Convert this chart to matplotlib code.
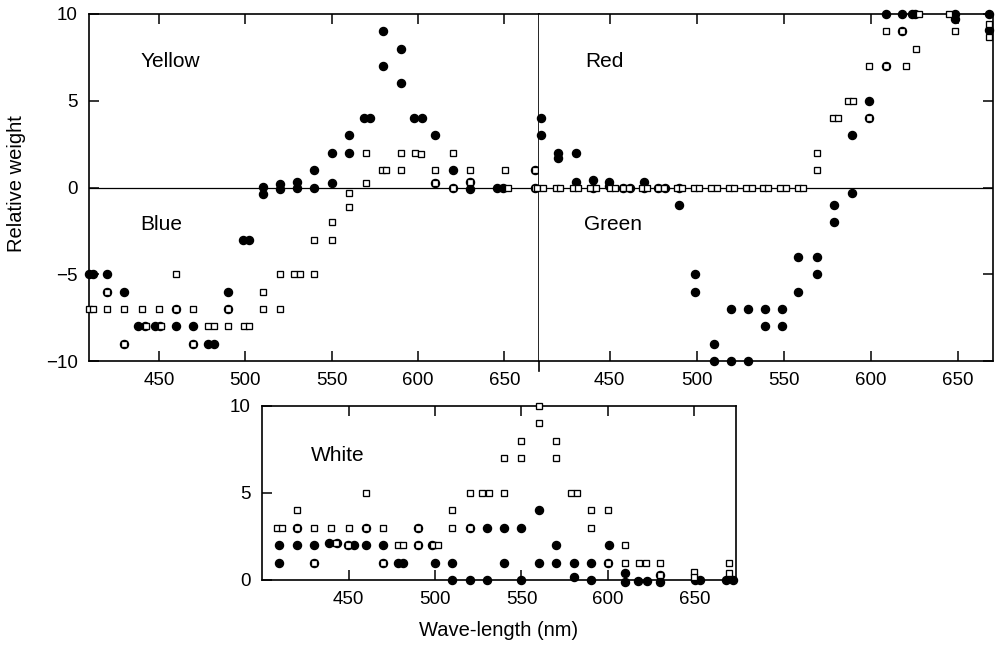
import matplotlib

matplotlib.use("Agg")
import matplotlib.pyplot as plt  # noqa: E402

plt.rcParams["font.family"] = ["Liberation Sans", "DejaVu Sans"]

X_TICKS = [450, 500, 550, 600, 650]

# left upper panel: Yellow (positive) / Blue (negative)
left_circle_nm = [409.5, 412, 420, 420, 430, 430, 438, 442, 447.5, 450.5, 460, 460, 470, 470,
                  478.5, 482, 490, 490, 498.5, 502, 510, 510, 520, 520, 530, 530, 540, 540,
                  550, 550, 560, 560, 568.5, 572.5, 580, 580, 590, 590, 597.5, 602.5, 610, 610,
                  620, 620, 630, 630, 646, 649, 668, 668]
left_circle_val = [-5, -5, -5, -6, -6, -9, -8, -8, -8, -8, -8, -7, -8, -9,
                   -9, -9, -6, -7, -3, -3, 0.05, -0.35, 0.2, -0.1, 0.3, 0, 1, 0,
                   2, 0.25, 3, 2, 4, 4, 9, 7, 8, 6, 4, 4, 3, 0.25,
                   1, 0, 0.3, -0.1, 0, 0, 1, 0]
left_square_nm = [409.5, 412, 420, 420, 430, 430, 440, 442.5, 450, 451, 460, 460, 470, 470,
                  478.5, 482, 490, 490, 499, 502, 510, 510, 520, 520, 528.5, 531.5, 540, 540,
                  550, 550, 560, 560, 570, 570, 579, 581.5, 590, 590, 598.5, 602, 610, 610,
                  620, 620, 630, 630, 652, 650.5, 668, 668]
left_square_val = [-7, -7, -6, -7, -7, -9, -7, -8, -7, -8, -5, -7, -7, -9,
                   -8, -8, -7, -8, -8, -8, -6, -7, -5, -7, -5, -5, -3, -5,
                   -2, -3, -0.3, -1.1, 2, 0.25, 1, 1, 2, 1, 2, 1.95, 1, 0.25,
                   2, 0, 1, 0.3, 0, 1, 1, 0]

# right upper panel: Red (positive) / Green (negative)
right_circle_nm = [410.5, 410.5, 420.5, 420.5, 430.5, 430.5, 440.5, 440.5, 449.7, 449.7,
                   458, 462, 469.7, 469.7, 478, 482, 489.7, 489.7, 499.2, 499.2, 509.8, 509.8,
                   519.7, 519.7, 529.2, 529.2, 539.3, 539.3, 548.9, 548.9, 558.4, 558.4,
                   568.9, 568.9, 579, 579, 588.9, 588.9, 599.1, 599.1, 608.6, 608.6,
                   618.1, 618.1, 623.5, 625.5, 648, 648.5, 667.5, 667.5]
right_circle_val = [4, 3, 2, 1.7, 2, 0.3, 0.45, 0, 0.3, 0.1,
                    0, 0, 0.3, 0, 0, 0, 0, -1, -5, -6, -9, -10,
                    -7, -10, -7, -10, -7, -8, -7, -8, -4, -6,
                    -4, -5, -1, -2, 3, -0.3, 5, 4, 10, 7,
                    10, 9, 10, 10, 10, 9.7, 10, 9.1]
right_square_nm = [408.5, 412, 419, 421.5, 429, 432, 439, 442, 450, 453,
                   458, 461, 468.5, 471.5, 478, 481, 488.5, 491.5, 498.5, 501.5, 508.5, 511.5,
                   518.5, 521.5, 528.5, 531.5, 538, 541, 548, 551, 558, 561,
                   568.9, 568.9, 578, 581, 587, 590, 599.1, 599.1, 608.6, 608.6,
                   618.1, 620, 627.5, 626, 645, 648, 668, 668]
right_square_val = [0, 0, 0, 0, 0, 0, 0, 0, 0, 0,
                    0, 0, 0, 0, 0, 0, 0, 0, 0, 0, 0, 0,
                    0, 0, 0, 0, 0, 0, 0, 0, 0, 0,
                    2, 1, 4, 4, 5, 5, 7, 4, 9, 7,
                    9, 7, 10, 8, 10, 9, 9.4, 8.7]

# lower panel: White
white_circle_nm = [410, 410, 420, 420, 430, 430, 439, 443.5, 449.5, 453, 460, 460, 470, 470,
                   478.5, 481.5, 490, 490, 498.5, 500, 510, 510, 520, 520, 530, 530, 540, 540,
                   550, 550, 560, 560, 570, 570, 580.5, 580.5, 590, 590, 600.5, 600, 610, 610,
                   617.5, 622.5, 630, 630, 650.5, 653, 668, 672]
white_circle_val = [2, 1, 3, 2, 2, 1, 2.1, 2.1, 2, 2, 3, 2, 2, 1,
                    1, 1, 3, 2, 2, 1, 1, 0, 3, 0, 3, 0, 3, 1,
                    3, 0, 4, 1, 2, 1, 1, 0.2, 1, 0, 2, 1, 0.4, -0.1,
                    -0.05, -0.05, 0.3, -0.1, 0, 0, 0, 0]
white_square_nm = [408.5, 411.5, 420, 420, 430, 430, 440, 443, 450, 449.5, 460, 460, 470, 470,
                   478.5, 481.5, 490, 490, 499, 502, 510, 510, 520, 520, 527, 531.5, 540, 540,
                   550, 550, 560, 560, 570, 570, 578.5, 582, 590, 590, 600, 600, 610, 610,
                   618, 622, 630, 630, 650, 650, 670, 670]
white_square_val = [3, 3, 4, 3, 3, 1, 3, 2.1, 3, 2, 5, 3, 3, 1,
                    2, 2, 3, 2, 2, 2, 4, 3, 5, 3, 5, 5, 7, 5,
                    8, 7, 10, 9, 8, 7, 5, 5, 4, 3, 4, 1, 2, 1,
                    1, 1, 1, 0.3, 0.45, 0.15, 1, 0.4]


def draw_points(axis, circle_nm, circle_val, square_nm, square_val):
    axis.plot(circle_nm, circle_val, linestyle="none", marker="o", markersize=5.8,
              color="black", clip_on=False, zorder=3)
    axis.plot(square_nm, square_val, linestyle="none", marker="s", markersize=4.3,
              markerfacecolor="white", markeredgecolor="black", markeredgewidth=0.95,
              clip_on=False, zorder=4)


def style_axis(axis, xlim, ylim):
    axis.set_xlim(*xlim)
    axis.set_ylim(*ylim)
    axis.set_xticks(X_TICKS)
    axis.tick_params(direction="in", length=7, width=1.1, top=True, bottom=True,
                     labelsize=13.5, pad=8)
    for spine in axis.spines.values():
        spine.set_linewidth(1.2)


def main() -> None:
    figure = plt.figure(figsize=(10.02, 6.45), dpi=100)
    left = figure.add_axes([0.0888, 0.4403, 0.449, 0.538])
    right = figure.add_axes([0.5379, 0.4403, 0.453, 0.538])
    bottom = figure.add_axes([0.2615, 0.1008, 0.473, 0.2698])

    for axis, circles, squares in (
        (left, (left_circle_nm, left_circle_val), (left_square_nm, left_square_val)),
        (right, (right_circle_nm, right_circle_val), (right_square_nm, right_square_val)),
    ):
        style_axis(axis, (409.5, 670), (-10, 10))
        axis.set_yticks([-10, -5, 0, 5, 10])
        axis.axhline(0, color="black", linewidth=0.9, zorder=1)
        draw_points(axis, *circles, *squares)

    left.tick_params(axis="y", left=True, right=False)
    left.axvline(670, ymin=-0.03, ymax=0, color="black", linewidth=1.2, clip_on=False)
    right.tick_params(axis="y", left=False, right=True, labelleft=False)
    right.spines["left"].set_visible(False)

    style_axis(bottom, (400, 674), (0, 10))
    bottom.set_yticks([0, 5, 10])
    bottom.tick_params(axis="y", left=True, right=False)
    draw_points(bottom, white_circle_nm, white_circle_val, white_square_nm, white_square_val)

    label_style = dict(fontsize=15, va="center", ha="left")
    left.text(439.4, 7.24, "Yellow", **label_style)
    left.text(439.4, -2.15, "Blue", **label_style)
    right.text(436.1, 7.24, "Red", **label_style)
    right.text(435.5, -2.15, "Green", **label_style)
    bottom.text(428.2, 7.17, "White", **label_style)

    figure.text(0.016, 0.715, "Relative weight", rotation=90, fontsize=14.5,
                ha="center", va="center")
    bottom.set_xlabel("Wave-length (nm)", fontsize=14.5, labelpad=9)

    figure.savefig("out.png", dpi=100)
    plt.close(figure)


if __name__ == "__main__":
    main()
